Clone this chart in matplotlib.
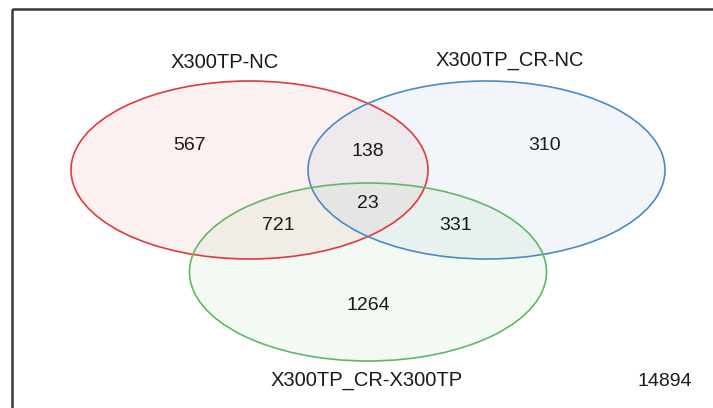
import matplotlib
matplotlib.use("Agg")
import matplotlib.pyplot as plt
from matplotlib.patches import Ellipse, Rectangle

plt.rcParams["font.family"] = ["Liberation Sans", "DejaVu Sans"]

# Set names and region counts
set_names = ["X300TP-NC", "X300TP_CR-NC", "X300TP_CR-X300TP"]
only_counts = [567, 310, 1264]          # A only, B only, C only
pair_counts = [138, 721, 331]           # A&B, A&C, B&C
triple_count = 23                        # A&B&C
outside_count = 14894

edge_colors = ["#e0393e", "#4a8bc6", "#62b862"]

fig = plt.figure(figsize=(7.13, 4.08), dpi=100)
ax = fig.add_axes([0, 0, 1, 1])
ax.set_xlim(0, 713)
ax.set_ylim(408, 0)
ax.axis("off")

# outer frame
ax.add_patch(Rectangle((12, 9), 760, 440, fill=False, edgecolor="#3a3a3a", lw=1.8))

# ellipse layout (center x, center y)
centers = [(249.5, 170), (486.5, 170), (368, 272)]
width, height = 357, 178

for (cx, cy), col in zip(centers, edge_colors):
    ax.add_patch(Ellipse((cx, cy), width, height, facecolor=col, alpha=0.07, edgecolor="none"))
for (cx, cy), col in zip(centers, edge_colors):
    ax.add_patch(Ellipse((cx, cy), width, height, fill=False, edgecolor=col, lw=1.2))

fs_num = 14
txt = dict(ha="center", va="center", color="#1a1a1a", fontsize=fs_num)

# region counts
ax.text(190, 145, str(only_counts[0]), **txt)
ax.text(545, 145, str(only_counts[1]), **txt)
ax.text(368, 305, str(only_counts[2]), **txt)
ax.text(368, 152, str(pair_counts[0]), **txt)
ax.text(278, 225, str(pair_counts[1]), **txt)
ax.text(456, 225, str(pair_counts[2]), **txt)
ax.text(368, 204, str(triple_count), **txt)
ax.text(665, 382, str(outside_count), **txt)

# set names
lbl = dict(ha="center", va="center", color="#1a1a1a", fontsize=14.5)
ax.text(225, 62, set_names[0], **lbl)
ax.text(510, 61, set_names[1], **lbl)
ax.text(367, 381, set_names[2], **lbl)

fig.savefig("out.png", dpi=100)
